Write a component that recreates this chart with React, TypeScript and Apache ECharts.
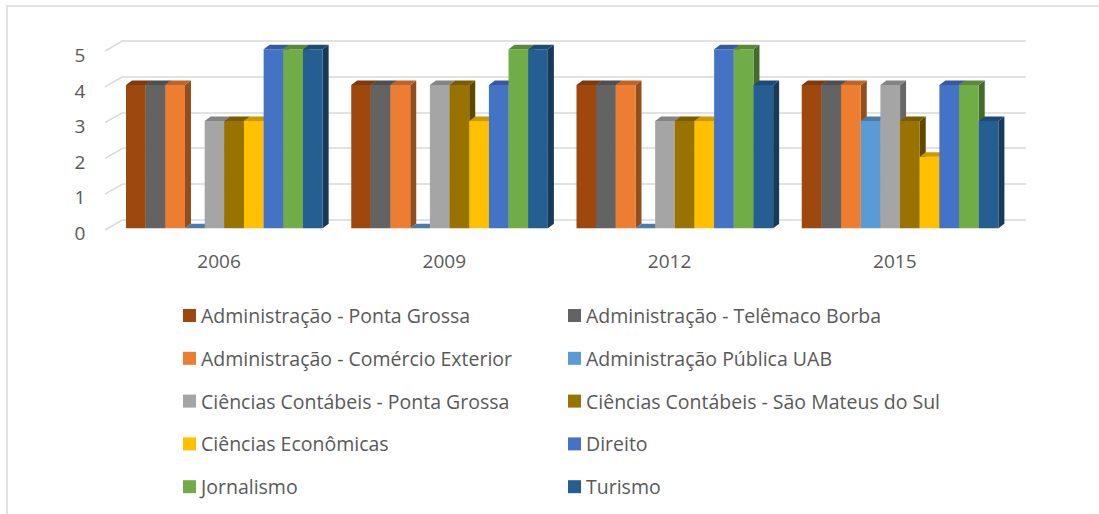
import React, { useEffect, useRef } from "react";
import * as echarts from "echarts";

const years = ["2006", "2009", "2012", "2015"];
const yTicks = [0, 1, 2, 3, 4, 5];

const seriesNames = [
  "Administração - Ponta Grossa",
  "Administração - Telêmaco Borba",
  "Administração - Comércio Exterior",
  "Administração Pública UAB",
  "Ciências Contábeis - Ponta Grossa",
  "Ciências Contábeis - São Mateus do Sul",
  "Ciências Econômicas",
  "Direito",
  "Jornalismo",
  "Turismo",
];

const seriesColors = [
  "#9E480E",
  "#636363",
  "#ED7D31",
  "#5B9BD5",
  "#A5A5A5",
  "#997300",
  "#FFC000",
  "#4472C4",
  "#70AD47",
  "#255E91",
];

const adminPontaGrossa = [4, 4, 4, 4];
const adminTelemacoBorba = [4, 4, 4, 4];
const adminComercioExterior = [4, 4, 4, 4];
const adminPublicaUAB = [0, 0, 0, 3];
const contabeisPontaGrossa = [3, 4, 3, 4];
const contabeisSaoMateus = [3, 4, 3, 3];
const cienciasEconomicas = [3, 3, 3, 2];
const direito = [5, 4, 5, 4];
const jornalismo = [5, 5, 5, 4];
const turismo = [5, 5, 4, 3];

const seriesValues = [
  adminPontaGrossa,
  adminTelemacoBorba,
  adminComercioExterior,
  adminPublicaUAB,
  contabeisPontaGrossa,
  contabeisSaoMateus,
  cienciasEconomicas,
  direito,
  jornalismo,
  turismo,
];

function shade(hex: string, f: number): string {
  const n = parseInt(hex.slice(1), 16);
  const r = Math.round(((n >> 16) & 255) * f);
  const g = Math.round(((n >> 8) & 255) * f);
  const b = Math.round((n & 255) * f);
  return `rgb(${r},${g},${b})`;
}

const FONT = "'Open Sans', sans-serif";
const TEXT = "#595959";
const GRID = "#d9d9d9";

export default function App() {
  const ref = useRef<HTMLDivElement>(null);

  useEffect(() => {
    if (!ref.current) return;
    const chart = echarts.init(ref.current, undefined, { renderer: "svg" });

    const barSeries = seriesValues.map((vals, k) => {
      const front = seriesColors[k];
      const top = shade(front, 0.8);
      const side = shade(front, 0.62);
      return {
        type: "custom",
        name: seriesNames[k],
        xAxisIndex: 0,
        yAxisIndex: 0,
        itemStyle: { color: front },
        z: 10,
        data: vals.map((v, i) => [i, v]),
        renderItem: (params: any, api: any) => {
          const idx = api.value(0);
          const v = api.value(1);
          const pTop = api.coord([idx, v]);
          const pBase = api.coord([idx, 0]);
          const bandW = api.size([1, 0])[0];
          const w = bandW * 0.0873;
          const x0 = pBase[0] - bandW / 2 + bandW * 0.087 + k * w;
          const x1 = x0 + w;
          const yT = pTop[1];
          const yB = pBase[1];
          const dx = 6;
          const dy = 4.5;
          return {
            type: "group",
            children: [
              {
                type: "polygon",
                shape: { points: [[x1, yT], [x1 + dx, yT - dy], [x1 + dx, yB - dy], [x1, yB]] },
                style: { fill: side },
              },
              {
                type: "rect",
                shape: { x: x0, y: yT, width: w, height: Math.max(0, yB - yT) },
                style: { fill: front },
              },
              {
                type: "polygon",
                shape: { points: [[x0, yT], [x0 + dx, yT - dy], [x1 + dx, yT - dy], [x1, yT]] },
                style: { fill: top },
              },
            ],
          };
        },
      };
    });

    const diagSeries = {
      type: "custom",
      name: "__diag",
      xAxisIndex: 0,
      yAxisIndex: 0,
      z: 1,
      silent: true,
      data: yTicks.map((v) => [0, v]),
      renderItem: (params: any, api: any) => {
        const v = api.value(1);
        const p = api.coord([0, v]);
        const gx = params.coordSys.x;
        return {
          type: "line",
          shape: { x1: gx - 1.4, y1: p[1] + 1.7, x2: gx + 16.6, y2: p[1] - 8.6 },
          style: { stroke: GRID, lineWidth: 1.5 },
        };
      },
    };

    const legendCommon = {
      orient: "vertical" as const,
      icon: "rect",
      itemWidth: 13,
      itemHeight: 13,
      itemGap: 22.8,
      padding: 0,
      selectedMode: false,
      textStyle: { color: TEXT, fontSize: 19.5, fontFamily: FONT, lineHeight: 19.5 },
    };

    chart.setOption({
      animation: false,
      backgroundColor: "#ffffff",
      graphic: [
        {
          type: "rect",
          shape: { x: 7, y: 6, width: 1200, height: 600 },
          style: { fill: "none", stroke: GRID, lineWidth: 1.5 },
          silent: true,
        },
      ],
      grid: [
        { left: 106.4, right: 91.6, top: 49.3, bottom: 285.7 },
        { left: 123, right: 73, top: 40.7, bottom: 294.3 },
        { left: 106.4, right: 91.6, top: 55, bottom: 281 },
      ],
      xAxis: [
        {
          type: "category",
          gridIndex: 0,
          data: years,
          axisLine: { show: false },
          axisTick: { show: false },
          splitLine: { show: false },
          axisLabel: { color: TEXT, fontSize: 19, fontFamily: FONT, margin: 23 },
        },
        {
          type: "value",
          gridIndex: 1,
          show: false,
          min: 0,
          max: 1,
        },
        {
          type: "category",
          gridIndex: 2,
          show: false,
          data: years,
        },
      ],
      yAxis: [
        {
          type: "value",
          gridIndex: 0,
          min: 0,
          max: 5,
          interval: 1,
          axisLine: { show: false },
          axisTick: { show: false },
          splitLine: { show: false },
          axisLabel: { show: false },
        },
        {
          type: "value",
          gridIndex: 1,
          min: 0,
          max: 5,
          interval: 1,
          axisLine: { show: false },
          axisTick: { show: false },
          axisLabel: { show: false },
          splitLine: { show: true, lineStyle: { color: GRID, width: 1.5 } },
        },
        {
          type: "value",
          gridIndex: 2,
          min: 0,
          max: 5,
          interval: 1,
          axisLine: { show: false },
          axisTick: { show: false },
          splitLine: { show: false },
          axisLabel: {
            color: TEXT,
            fontSize: 19,
            fontFamily: FONT,
            margin: 21,
          },
        },
      ],
      legend: [
        {
          ...legendCommon,
          left: 183,
          top: 305.5,
          data: [0, 2, 4, 6, 8].map((i) => seriesNames[i]),
        },
        {
          ...legendCommon,
          left: 568,
          top: 305.5,
          data: [1, 3, 5, 7, 9].map((i) => seriesNames[i]),
        },
      ],
      series: [diagSeries, ...barSeries],
    });

    return () => chart.dispose();
  }, []);

  return (
    <div
      ref={ref}
      style={{ position: "fixed", left: 0, top: 0, width: 1099, height: 514 }}
    />
  );
}
